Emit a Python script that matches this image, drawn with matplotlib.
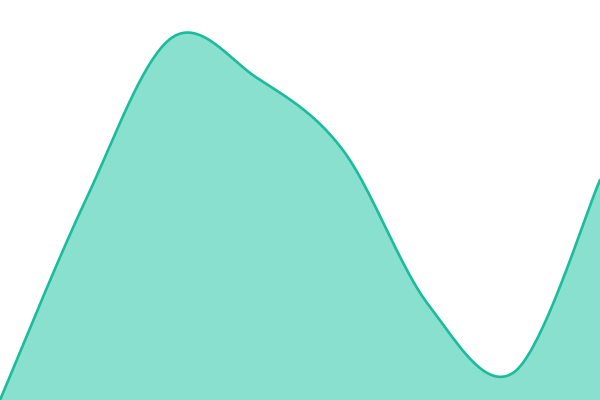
import numpy as np
import matplotlib
matplotlib.use("Agg")
import matplotlib.pyplot as plt

# data (index positions and values)
xs = [0, 1, 2, 3, 4, 5, 6, 7]
values = [0, 200, 362, 322, 250, 95, 28, 220]

def catmull_rom(x, y, n=40):
    x = np.asarray(x, float); y = np.asarray(y, float)
    px = np.concatenate([[x[0]], x, [x[-1]]])
    py = np.concatenate([[y[0]], y, [y[-1]]])
    ox, oy = [], []
    for i in range(1, len(px) - 2):
        t = np.linspace(0, 1, n, endpoint=(i == len(px) - 3))
        p0, p1, p2, p3 = (np.array([px[j], py[j]]) for j in range(i - 1, i + 3))
        b1 = p1 + (p2 - p0) / 6
        b2 = p2 - (p3 - p1) / 6
        for tt in t:
            pt = ((1 - tt) ** 3) * p1 + 3 * ((1 - tt) ** 2) * tt * b1 + 3 * (1 - tt) * tt ** 2 * b2 + tt ** 3 * p2
            ox.append(pt[0]); oy.append(pt[1])
    return np.array(ox), np.array(oy)

sx, sy = catmull_rom(xs, values)

fig = plt.figure(figsize=(6, 4), dpi=100)
ax = fig.add_axes([0, 0, 1, 1])
ax.fill_between(sx, sy, 0, color="#8ae0cf", linewidth=0)
ax.plot(sx, sy, color="#1abc9c", linewidth=1.9, solid_capstyle="round")
ax.set_xlim(xs[0], xs[-1])
ax.set_ylim(0, 400)
ax.axis("off")
fig.savefig("out.png", dpi=100)
